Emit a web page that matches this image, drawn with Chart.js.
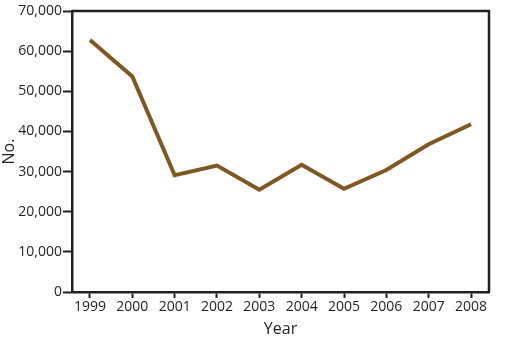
<!DOCTYPE html>
<html>
<head>
<meta charset="utf-8">
<script src="https://cdn.jsdelivr.net/npm/chart.js@4/dist/chart.umd.min.js"></script>
<style>
  html, body { margin: 0; padding: 0; background: #fff; }
  #wrap { width: 506px; height: 340px; }
</style>
</head>
<body>
<div id="wrap"><canvas id="myChart" width="506" height="340"></canvas></div>
<script>
'use strict';

// Data
const years = [1999, 2000, 2001, 2002, 2003, 2004, 2005, 2006, 2007, 2008];
const counts = [62800, 53700, 29100, 31500, 25500, 31700, 25700, 30400, 36800, 41800];
const yTicks = [0, 10000, 20000, 30000, 40000, 50000, 60000, 70000];

const inkColor = '#231f20';
const lineColor = '#7f5722';

// box around the plot area (top and right sides)
const boxPlugin = {
    id: 'box',
    afterDraw(chart) {
        const a = chart.chartArea;
        const ctx = chart.ctx;
        ctx.save();
        ctx.strokeStyle = inkColor;
        ctx.lineWidth = 2.5;
        ctx.beginPath();
        ctx.moveTo(a.left, a.top);
        ctx.lineTo(a.right, a.top);
        ctx.lineTo(a.right, a.bottom);
        ctx.stroke();
        ctx.restore();
    }
};

const points = years.map((yr, i) => ({ x: yr, y: counts[i] }));

new Chart(document.getElementById('myChart'), {
    type: 'line',
    data: {
        datasets: [{
            data: points,
            borderColor: lineColor,
            borderWidth: 4,
            pointRadius: 0,
            tension: 0,
            fill: false
        }]
    },
    options: {
        responsive: false,
        animation: false,
        layout: { padding: { left: 0, top: 11, right: 17, bottom: 0 } },
        plugins: { legend: { display: false }, tooltip: { enabled: false } },
        scales: {
            x: {
                type: 'linear',
                min: 1998.575,
                max: 2008.425,
                afterBuildTicks(scale) {
                    scale.ticks = years.map(v => ({ value: v }));
                },
                afterFit(scale) { scale.height = 48; },
                grid: {
                    drawOnChartArea: false,
                    tickLength: 6,
                    tickWidth: 2,
                    color: inkColor
                },
                border: { color: inkColor, width: 2.5 },
                ticks: {
                    color: inkColor,
                    font: { family: 'Open Sans', size: 14 },
                    padding: 1,
                    maxRotation: 0,
                    callback: v => String(v)
                },
                title: {
                    display: true,
                    text: 'Year',
                    color: inkColor,
                    font: { family: 'Open Sans', size: 16 },
                    padding: { top: 0, bottom: 1 }
                }
            },
            y: {
                min: 0,
                max: 70000,
                afterBuildTicks(scale) {
                    scale.ticks = yTicks.map(v => ({ value: v }));
                },
                afterFit(scale) { scale.width = 72; },
                grid: {
                    drawOnChartArea: false,
                    tickLength: 9,
                    tickWidth: 2,
                    color: inkColor
                },
                border: { color: inkColor, width: 2.5 },
                ticks: {
                    color: inkColor,
                    font: { family: 'Open Sans', size: 14 },
                    padding: 1,
                    callback: v => v.toLocaleString('en-US')
                },
                title: {
                    display: true,
                    text: 'No.',
                    color: inkColor,
                    font: { family: 'Open Sans', size: 16 },
                    padding: { top: 0, bottom: 0 }
                }
            }
        }
    },
    plugins: [boxPlugin]
});
</script>
</body>
</html>
